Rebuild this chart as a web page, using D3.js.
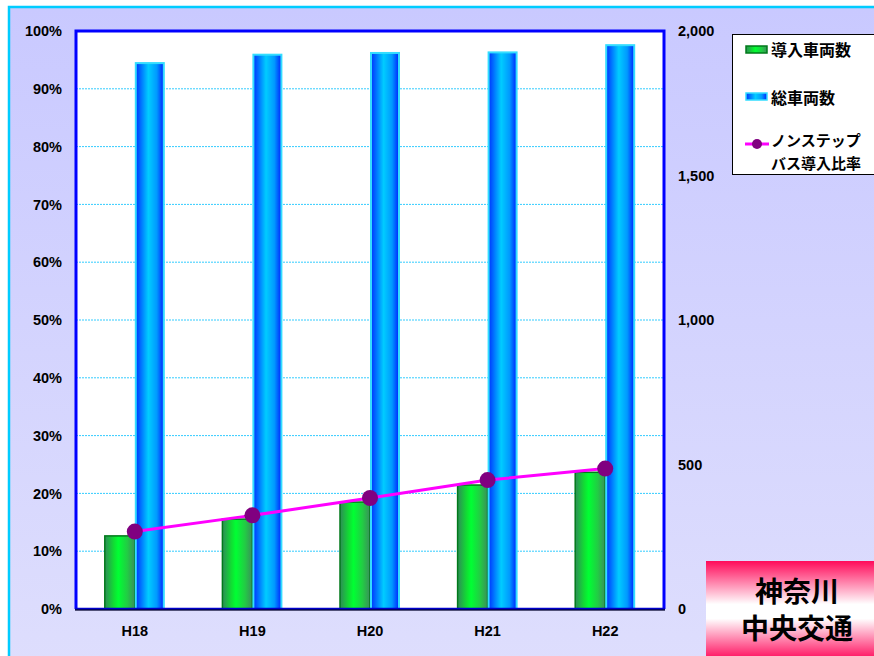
<!DOCTYPE html>
<html><head><meta charset="utf-8">
<script src="https://cdn.jsdelivr.net/npm/d3@7"></script>
<style>body{margin:0;background:#fff}svg{display:block}</style>
</head><body>
<svg id="c" width="874" height="656"></svg>
<script>
const categories = ["H18","H19","H20","H21","H22"];
const introduced = [253, 311, 370, 429, 473];
const totalBuses = [1889, 1918, 1924, 1926, 1951];
const ratioPct = [13.4, 16.2, 19.2, 22.3, 24.3];
const leftTicks = [0,10,20,30,40,50,60,70,80,90,100];
const rightTicks = [0,500,1000,1500,2000];
const seriesNames = ["導入車両数","総車両数","ノンステップ","バス導入比率"];
const companyLines = ["神奈川","中央交通"];

const svg = d3.select("#c");
const defs = svg.append("defs");
const FONT = "'Liberation Sans', Arial, sans-serif";
const JFONT = "'Noto Sans CJK JP', sans-serif";

const bg = defs.append("linearGradient").attr("id","bg").attr("x1",0).attr("y1",0).attr("x2",0).attr("y2",1);
bg.append("stop").attr("offset","0%").attr("stop-color","#c9c9ff");
bg.append("stop").attr("offset","100%").attr("stop-color","#dedefd");

const gG = defs.append("linearGradient").attr("id","gG").attr("x1",0).attr("y1",0).attr("x2",1).attr("y2",0);
[["0%","#2e8b57"],["30%","#11dd33"],["45%","#00ff33"],["75%","#22cc44"],["100%","#3a8f5a"]].forEach(s=>gG.append("stop").attr("offset",s[0]).attr("stop-color",s[1]));

const gB = defs.append("linearGradient").attr("id","gB").attr("x1",0).attr("y1",0).attr("x2",1).attr("y2",0);
[["0%","#0033ff"],["20%","#0077ff"],["45%","#00ccff"],["75%","#0099ff"],["100%","#0022ff"]].forEach(s=>gB.append("stop").attr("offset",s[0]).attr("stop-color",s[1]));

const gR = defs.append("linearGradient").attr("id","gR").attr("x1",0).attr("y1",0).attr("x2",0).attr("y2",1);
[["0%","#ff0a5a"],["45%","#ffffff"],["60%","#ffffff"],["100%","#ff1a66"]].forEach(s=>gR.append("stop").attr("offset",s[0]).attr("stop-color",s[1]));

svg.append("rect").attr("x",9).attr("y",7).attr("width",880).attr("height",660)
  .attr("fill","url(#bg)").attr("stroke","#00ccff").attr("stroke-width",2.5);

const L = 76, R = 664, T = 31, B = 609;
const x = d3.scaleBand().domain(categories).range([L,R]);
const yL = d3.scaleLinear().domain([0,100]).range([B,T]);
const yR = d3.scaleLinear().domain([0,2000]).range([B,T]);

svg.append("rect").attr("x",L).attr("y",T).attr("width",R-L).attr("height",B-T).attr("fill","#fff");

svg.append("g").selectAll("line").data(leftTicks.filter(d=>d>0 && d<100)).join("line")
  .attr("x1",L).attr("x2",R).attr("y1",d=>yL(d)).attr("y2",d=>yL(d))
  .attr("stroke","#33ccff").attr("stroke-width",1).attr("stroke-dasharray","2,1");

const bw = 30;
const g = svg.append("g");
g.selectAll(".gb").data(categories).join("rect")
  .attr("x",d=>x(d)+x.bandwidth()/2-bw).attr("y",(d,i)=>yR(introduced[i]))
  .attr("width",bw).attr("height",(d,i)=>B-yR(introduced[i]))
  .attr("fill","url(#gG)").attr("stroke","#007a1a").attr("stroke-width",1.5);
g.selectAll(".bb").data(categories).join("rect")
  .attr("x",d=>x(d)+x.bandwidth()/2+1).attr("y",(d,i)=>yR(totalBuses[i]))
  .attr("width",bw-2).attr("height",(d,i)=>B-yR(totalBuses[i]))
  .attr("fill","url(#gB)").attr("stroke","#33ddff").attr("stroke-width",2);

svg.append("path").attr("d",`M${L},${B}V${T}H${R}V${B}`).attr("fill","none").attr("stroke","#0000ff").attr("stroke-width",3);
svg.append("line").attr("x1",L-1).attr("x2",R+1).attr("y1",B).attr("y2",B).attr("stroke","#0000cc").attr("stroke-width",2.5);
svg.append("line").attr("x1",L-1).attr("x2",R+1).attr("y1",B+1).attr("y2",B+1).attr("stroke","#000").attr("stroke-width",1);

const line = d3.line().x(d=>x(d.c)+x.bandwidth()/2).y(d=>yL(d.v));
const pts = categories.map((c,i)=>({c,v:ratioPct[i]}));
svg.append("path").datum(pts).attr("d",line).attr("fill","none").attr("stroke","#ff00ff").attr("stroke-width",3);
svg.append("g").selectAll("circle").data(pts).join("circle")
  .attr("cx",d=>x(d.c)+x.bandwidth()/2).attr("cy",d=>yL(d.v)).attr("r",8).attr("fill","#800080");

const axL = d3.axisLeft(yL).tickValues(leftTicks).tickFormat(d=>d+"%").tickSize(0).tickPadding(14);
const gL = svg.append("g").attr("transform",`translate(${L},0)`).call(axL);
const axR = d3.axisRight(yR).tickValues(rightTicks).tickFormat(d3.format(",")).tickSize(0).tickPadding(14);
const gR2 = svg.append("g").attr("transform",`translate(${R},0)`).call(axR);
const axB = d3.axisBottom(x).tickSize(0).tickPadding(17);
const gB2 = svg.append("g").attr("transform",`translate(0,${B})`).call(axB);
[gL,gR2,gB2].forEach(a=>{a.select(".domain").remove();a.selectAll("text").attr("font-family",FONT).attr("font-weight","bold").attr("font-size",14.5).attr("fill","#000");});

const lg = svg.append("g");
lg.append("rect").attr("x",732.5).attr("y",34.5).attr("width",160).attr("height",140).attr("fill","#fff").attr("stroke","#000").attr("stroke-width",1);
lg.append("rect").attr("x",746).attr("y",46).attr("width",21).attr("height",7).attr("fill","url(#gG)").attr("stroke","#007a1a").attr("stroke-width",1.5);
lg.append("rect").attr("x",746).attr("y",93).attr("width",21).attr("height",7).attr("fill","url(#gB)").attr("stroke","#33ddff").attr("stroke-width",1.5);
lg.append("line").attr("x1",745).attr("x2",769).attr("y1",144).attr("y2",144).attr("stroke","#ff00ff").attr("stroke-width",3);
lg.append("circle").attr("cx",757).attr("cy",144).attr("r",5).attr("fill","#800080");
const lt = [[seriesNames[0],771,56,16],[seriesNames[1],771,104,16],[seriesNames[2],771,146,15],[seriesNames[3],771,169,15]];
lg.selectAll("text").data(lt).join("text").attr("x",d=>d[1]).attr("y",d=>d[2]).text(d=>d[0])
  .attr("font-family",JFONT).attr("font-weight","bold").attr("font-size",d=>d[3]).attr("fill","#000");

svg.append("rect").attr("x",706).attr("y",561).attr("width",170).attr("height",96).attr("fill","url(#gR)");
svg.append("g").selectAll("text").data(companyLines).join("text")
  .attr("x",797).attr("y",(d,i)=>602+i*37).attr("text-anchor","middle").text(d=>d)
  .attr("font-family",JFONT).attr("font-weight","bold").attr("font-size",28).attr("fill","#000");
</script>
</body></html>
